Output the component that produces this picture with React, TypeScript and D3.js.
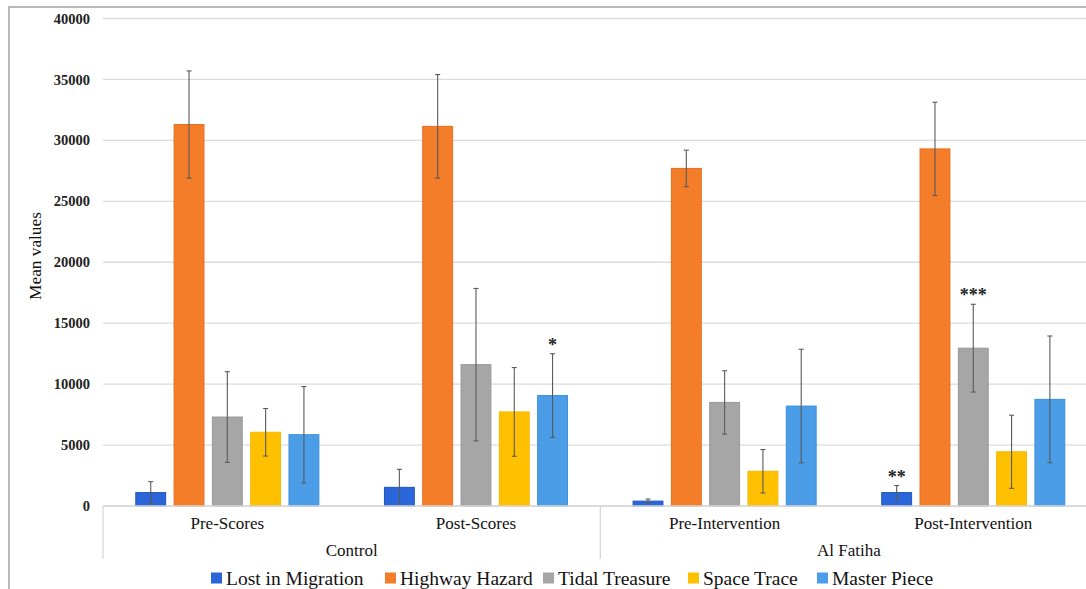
import React from "react";
import * as d3 from "d3";

const groups = ["Control", "Al Fatiha"];
const categories = ["Pre-Scores", "Post-Scores", "Pre-Intervention", "Post-Intervention"];
const categoryGroup = ["Control", "Control", "Al Fatiha", "Al Fatiha"];
const seriesNames = ["Lost in Migration", "Highway Hazard", "Tidal Treasure", "Space Trace", "Master Piece"];
const seriesColors = ["#2a66d9", "#f47d2a", "#a6a6a6", "#ffc000", "#4a9de6"];
const seriesStroke = ["#1f55c0", "#e86c1c", "#999999", "#f5b800", "#3b8fdc"];

const lostInMigration = [1100, 1530, 400, 1100];
const highwayHazard = [31300, 31150, 27700, 29300];
const tidalTreasure = [7300, 11600, 8500, 12950];
const spaceTrace = [6050, 7720, 2850, 4450];
const masterPiece = [5850, 9060, 8200, 8750];

const lostErr = [900, 1480, 170, 580];
const highwayErr = [4400, 4250, 1500, 3830];
const tidalErr = [3720, 6250, 2600, 3600];
const spaceErr = [1950, 3640, 1780, 3000];
const masterErr = [3950, 3430, 4660, 5200];

// significance annotations: [categoryIndex, seriesIndex, label]
const annotations: [number, number, string][] = [
  [1, 4, "*"],
  [3, 0, "**"],
  [3, 2, "***"],
];

const yTicks = [0, 5000, 10000, 15000, 20000, 25000, 30000, 35000, 40000];

const serif = "'Liberation Serif', 'Times New Roman', Times, serif";

export default function App() {
  const W = 1086, H = 589;
  const left = 103, right = 1097.6, top = 18.5, bottom = 506;
  const values = [lostInMigration, highwayHazard, tidalTreasure, spaceTrace, masterPiece];
  const errors = [lostErr, highwayErr, tidalErr, spaceErr, masterErr];

  const y = d3.scaleLinear().domain([0, 40000]).range([bottom, top]);
  const x0 = d3.scaleBand<string>().domain(categories).range([left, right]).padding(0);
  const bw0 = x0.bandwidth();
  const inner = 191.5;
  const x1 = d3.scaleBand<string>().domain(seriesNames).range([(bw0 - inner) / 2, (bw0 + inner) / 2]).paddingInner(0.22).paddingOuter(0.11);
  const bw = x1.bandwidth();

  const groupExtents = groups.map((g) => {
    const cats = categories.filter((_, i) => categoryGroup[i] === g);
    const s = x0(cats[0])!;
    const e = x0(cats[cats.length - 1])! + bw0;
    return { g, s, e };
  });

  const legendX = [211, 385, 543, 688, 817];
  const ts = { fontFamily: serif } as React.CSSProperties;

  return (
    <svg width={W} height={H} style={{ position: "absolute", left: 0, top: 0, background: "#fff", fontFamily: serif }}>
      <rect x={0} y={0} width={W} height={H} fill="#fff" />
      <rect x={9} y={7} width={W + 20} height={H + 20} fill="none" stroke="#8c8c8c" strokeWidth={1.2} />
      {yTicks.map((t) => (
        <line key={t} x1={left} x2={W} y1={y(t)} y2={y(t)} stroke="#dcdcdc" strokeWidth={1.3} />
      ))}
      {yTicks.map((t) => (
        <text key={"l" + t} x={90} y={y(t)} dy="0.35em" textAnchor="end" fontSize={14.5} fill="#222" fontWeight="bold" style={ts}>
          {t}
        </text>
      ))}
      <text transform={`translate(34.5,256) rotate(-90)`} dy="0.35em" textAnchor="middle" fontSize={17.3} fill="#111" style={ts}>
        Mean values
      </text>
      {categories.map((c, ci) => (
        <g key={c} transform={`translate(${x0(c)},0)`}>
          {seriesNames.map((s, si) => {
            const v = values[si][ci];
            const e = errors[si][ci];
            const bx = x1(s)!;
            const cx = bx + bw / 2;
            const lo = y(Math.max(0, v - e));
            const hi = y(v + e);
            return (
              <g key={s}>
                <rect x={bx} y={y(v)} width={bw} height={y(0) - y(v)} fill={seriesColors[si]} stroke={seriesStroke[si]} strokeWidth={1} />
                <line x1={cx} x2={cx} y1={hi} y2={lo} stroke="#5a5a5a" strokeWidth={1.1} />
                <line x1={cx - 2.5} x2={cx + 2.5} y1={hi} y2={hi} stroke="#5a5a5a" strokeWidth={1.1} />
                <line x1={cx - 2.5} x2={cx + 2.5} y1={lo} y2={lo} stroke="#5a5a5a" strokeWidth={1.1} />
              </g>
            );
          })}
        </g>
      ))}
      {annotations.map(([ci, si, lab]) => {
        const cx = x0(categories[ci])! + x1(seriesNames[si])! + bw / 2;
        const v = values[si][ci] + errors[si][ci];
        return (
          <text key={ci + "-" + si} x={cx} y={y(v) - 3} textAnchor="middle" fontSize={18} fontWeight="bold" fill="#222" style={ts}>
            {lab}
          </text>
        );
      })}
      <line x1={left} x2={W} y1={bottom} y2={bottom} stroke="#d9d9d9" strokeWidth={1.3} />
      {groupExtents.map(({ g, s }) => (
        <line key={"sep" + g} x1={s} x2={s} y1={bottom} y2={559} stroke="#d9d9d9" strokeWidth={1.3} />
      ))}
      {categories.map((c) => (
        <text key={"c" + c} x={x0(c)! + bw0 / 2} y={523} dy="0.35em" textAnchor="middle" fontSize={17} fill="#111" style={ts}>
          {c}
        </text>
      ))}
      {groupExtents.map(({ g, s, e }) => (
        <text key={"g" + g} x={(s + e) / 2} y={550} dy="0.35em" textAnchor="middle" fontSize={17} fill="#111" style={ts}>
          {g}
        </text>
      ))}
      {seriesNames.map((s, si) => (
        <g key={"lg" + s} transform={`translate(${legendX[si]},578)`}>
          <rect x={0} y={-5.5} width={11} height={11} fill={seriesColors[si]} />
          <text x={15} y={0} dy="0.35em" fontSize={19.5} fill="#111" style={ts}>
            {s}
          </text>
        </g>
      ))}
    </svg>
  );
}
